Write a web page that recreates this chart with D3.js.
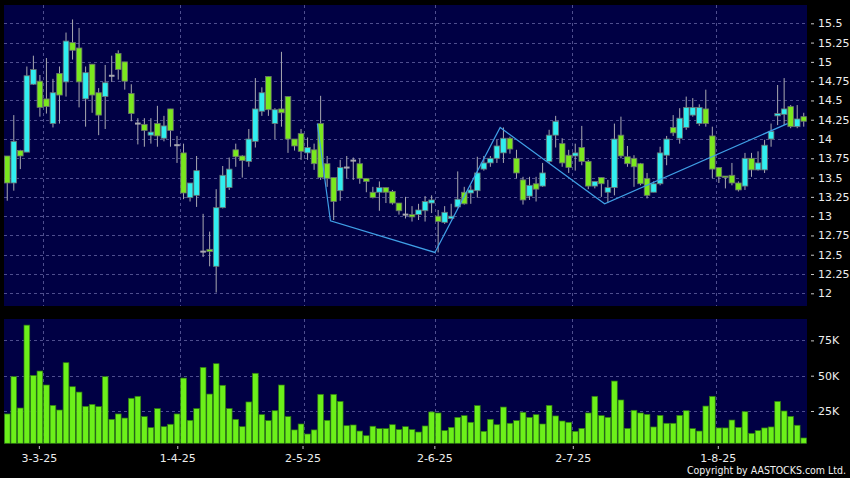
<!DOCTYPE html>
<html>
<head>
<meta charset="utf-8">
<script src="https://cdn.jsdelivr.net/npm/d3@7"></script>
<style>
  html, body { margin: 0; padding: 0; background: #000; }
  svg { display: block; }
</style>
</head>
<body>
<script>
// ---------------- DATA ----------------
const dates = [
  "2025-02-21","2025-02-24","2025-02-25","2025-02-26","2025-02-27","2025-02-28",
  "2025-03-03","2025-03-04","2025-03-05","2025-03-06","2025-03-07","2025-03-10","2025-03-11","2025-03-12","2025-03-13","2025-03-14",
  "2025-03-17","2025-03-18","2025-03-19","2025-03-20","2025-03-21","2025-03-24","2025-03-25","2025-03-26","2025-03-27","2025-03-28","2025-03-31",
  "2025-04-01","2025-04-02","2025-04-03","2025-04-07","2025-04-08","2025-04-09","2025-04-10","2025-04-11","2025-04-14","2025-04-15",
  "2025-04-16","2025-04-17","2025-04-22","2025-04-23","2025-04-24","2025-04-25","2025-04-28","2025-04-29","2025-04-30",
  "2025-05-02","2025-05-06","2025-05-07","2025-05-08","2025-05-09","2025-05-12","2025-05-13","2025-05-14","2025-05-15","2025-05-16",
  "2025-05-19","2025-05-20","2025-05-21","2025-05-22","2025-05-23","2025-05-26","2025-05-27","2025-05-28","2025-05-29","2025-05-30",
  "2025-06-02","2025-06-03","2025-06-04","2025-06-05","2025-06-06","2025-06-09","2025-06-10","2025-06-11","2025-06-12","2025-06-13",
  "2025-06-16","2025-06-17","2025-06-18","2025-06-19","2025-06-20","2025-06-23","2025-06-24","2025-06-25","2025-06-26","2025-06-27","2025-06-30",
  "2025-07-02","2025-07-03","2025-07-04","2025-07-07","2025-07-08","2025-07-09","2025-07-10","2025-07-11","2025-07-14","2025-07-15",
  "2025-07-16","2025-07-17","2025-07-18","2025-07-21","2025-07-22","2025-07-23","2025-07-24","2025-07-25","2025-07-28","2025-07-29","2025-07-30","2025-07-31",
  "2025-08-01","2025-08-04","2025-08-05","2025-08-06","2025-08-07","2025-08-08","2025-08-11","2025-08-12","2025-08-13","2025-08-14","2025-08-15",
  "2025-08-18","2025-08-19","2025-08-20"
];

const openP = [
  13.78,13.43,13.85,13.83,14.71,14.75,14.52,14.20,14.85,14.74,15.25,15.18,14.52,14.97,14.60,14.55,
  14.82,15.11,15.00,14.59,14.20,14.19,14.05,14.20,14.01,14.39,13.92,13.82,13.24,13.27,12.54,12.57,
  12.35,13.11,13.37,13.86,13.78,13.71,13.97,14.36,14.81,14.20,14.39,14.55,14.00,14.07,13.82,13.86,
  14.20,13.68,13.50,13.33,13.63,13.72,13.68,13.49,13.31,13.31,13.37,13.32,13.17,13.02,13.02,13.02,
  13.07,13.17,13.00,12.92,12.97,13.12,13.31,13.30,13.33,13.61,13.69,13.75,13.82,14.01,13.75,13.47,
  13.26,13.42,13.39,13.71,14.05,13.94,13.79,13.78,13.89,13.71,13.39,13.50,13.31,13.37,14.05,13.77,
  13.75,13.68,13.49,13.31,13.42,13.79,14.15,14.01,14.15,14.31,14.20,14.39,14.04,13.63,13.52,13.53,
  13.43,13.39,13.75,13.60,13.60,14.00,14.30,14.32,14.42,14.16,14.29
];
const highP = [
  13.78,14.31,13.86,14.94,15.08,14.83,15.05,14.78,14.94,15.38,15.55,15.44,14.94,14.97,14.66,14.96,
  15.08,15.15,15.00,14.71,14.27,14.27,14.27,14.43,14.30,14.39,14.04,13.94,13.43,13.78,13.03,12.80,
  13.35,13.65,13.76,13.94,13.79,14.13,14.79,14.67,14.81,14.40,15.13,14.55,14.00,14.13,14.02,13.94,
  14.56,13.78,13.50,13.73,13.78,13.76,13.75,13.49,13.38,13.45,13.37,13.34,13.17,13.25,13.13,13.16,
  13.26,13.27,13.08,13.13,13.16,13.58,13.38,13.40,13.77,13.78,13.78,13.99,14.15,14.03,13.86,13.51,
  13.51,13.51,13.69,14.12,14.30,14.01,13.86,13.94,14.17,13.73,13.45,13.50,13.47,14.20,14.29,13.91,
  13.79,13.69,13.56,13.45,13.90,14.04,14.31,14.40,14.55,14.53,14.45,14.64,14.16,13.63,13.52,13.69,
  13.45,13.82,13.82,13.84,13.99,14.20,14.70,14.79,14.44,14.44,14.34
];
const lowP = [
  13.20,13.33,13.61,13.83,14.70,14.29,14.33,14.15,14.20,14.55,15.03,14.41,14.16,14.34,14.05,14.13,
  14.74,14.77,14.64,14.23,13.93,13.90,13.94,13.90,13.97,13.90,13.69,13.22,13.19,13.12,12.47,12.35,
  12.01,13.10,13.34,13.64,13.50,13.64,13.89,14.30,14.30,14.00,14.16,13.82,13.85,13.73,13.73,13.60,
  13.47,13.38,12.95,13.20,13.49,13.47,13.42,13.31,13.23,13.07,13.17,13.15,13.02,12.97,12.93,12.95,
  12.93,13.04,12.53,12.90,12.96,13.11,13.15,13.16,13.24,13.59,13.64,13.69,13.69,13.81,13.49,13.15,
  13.21,13.19,13.38,13.69,13.89,13.64,13.56,13.59,13.66,13.35,13.36,13.25,13.17,13.27,13.75,13.64,
  13.38,13.40,13.23,13.31,13.40,13.66,14.04,13.94,14.12,14.29,14.17,14.16,13.49,13.43,13.36,13.40,
  13.32,13.34,13.51,13.59,13.56,13.90,14.18,14.18,14.14,14.14,14.16
];
const closeP = [
  13.43,13.97,13.78,14.82,14.90,14.41,14.42,14.60,14.57,15.27,15.15,14.74,14.86,14.57,14.31,14.73,
  14.82,14.90,14.75,14.33,14.20,14.11,14.09,14.04,14.17,14.11,13.92,13.30,13.43,13.59,12.54,12.54,
  13.11,13.53,13.61,13.77,13.72,14.00,14.39,14.60,14.38,14.38,14.34,14.00,13.91,13.84,13.89,13.68,
  13.50,13.49,13.19,13.63,13.63,13.72,13.49,13.45,13.24,13.37,13.31,13.17,13.07,13.02,12.99,13.08,
  13.19,13.21,12.93,13.05,13.00,13.22,13.16,13.34,13.56,13.69,13.75,13.91,14.01,13.87,13.56,13.21,
  13.40,13.35,13.56,14.05,14.23,13.69,13.63,13.82,13.71,13.39,13.45,13.42,13.37,14.00,13.78,13.68,
  13.64,13.42,13.27,13.42,13.82,14.00,14.08,14.27,14.41,14.41,14.41,14.20,13.61,13.51,13.50,13.43,
  13.34,13.75,13.60,13.69,13.92,14.10,14.33,14.39,14.16,14.26,14.23
];
const volume = [
  22900,49300,27100,85800,50200,53300,43400,29000,25700,59200,42200,38400,28300,29700,28100,49300,
  19100,22900,20000,34000,35400,21000,13200,26700,13900,15600,22900,48300,18400,26700,55900,37000,
  58500,43200,26700,19100,13900,31400,51700,22400,18200,25200,43400,21000,11600,15800,8700,11600,
  36800,18400,36800,31800,14600,15100,10800,7500,14200,12500,12500,15300,11800,13900,11800,10100,
  14400,24300,23600,11100,13400,20500,21700,17000,28800,10600,19100,15300,27800,16300,18200,24100,
  20500,22400,15800,29000,21500,17900,17000,10600,12700,23600,35400,21700,20500,46200,32800,12700,
  25500,23600,22600,13700,21900,16300,16300,21900,25200,12500,10800,28500,35400,13000,13000,18600,
  13400,24500,9200,11100,13000,13700,31800,25000,21200,14900,5900
];

// zig-zag trend line (vertices)
const trendDates  = ["2025-05-07","2025-05-09","2025-06-02","2025-06-16","2025-07-09","2025-08-18"];
const trendValues = [14.20, 12.94, 12.53, 14.15, 13.16, 14.20];

const priceTicks      = [12,12.25,12.5,12.75,13,13.25,13.5,13.75,14,14.25,14.5,14.75,15,15.25,15.5];
const priceTickLabels = ["12","12.25","12.5","12.75","13","13.25","13.5","13.75","14","14.25","14.5","14.75","15","15.25","15.5"];
const volTicks        = [25000,50000,75000];
const volTickLabels   = ["25K","50K","75K"];
const dateTicks       = ["2025-03-03","2025-04-01","2025-05-02","2025-06-02","2025-07-02","2025-08-01"];
const dateTickLabels  = ["3-3-25","1-4-25","2-5-25","2-6-25","2-7-25","1-8-25"];

// ---------------- DRAW ----------------
const W = 850, H = 478;
const FONT = "DejaVu Sans, Verdana, sans-serif";
const panelBg = "#000044";
const gridCol = "#4e4e8e";
const upCol = "#30eef0", downCol = "#7ae81e", volCol = "#6cf01a";

const P = {left: 4, right: 807, top: 5, bottom: 306};
const V = {top: 319, bottom: 443.3};

const svg = d3.select("body").append("svg").attr("width", W).attr("height", H)
  .style("background", "#000");

const x = d3.scaleBand().domain(dates).range([P.left, P.right]).padding(0);
const step = x.bandwidth();
const bw = step * 0.86;
const y = d3.scaleLinear().domain([12, 15.5]).range([293.3, 23.3]);
const yv = d3.scaleLinear().domain([0, 90000]).range([446.3, 319.2]);
const xa = d3.scaleBand().domain(dates).range([-3.5, 807.3]).padding(0);

// panels
svg.append("rect").attr("x", P.left).attr("y", P.top).attr("width", P.right - P.left)
  .attr("height", P.bottom - P.top).attr("fill", panelBg);
svg.append("rect").attr("x", P.left).attr("y", V.top).attr("width", P.right - P.left)
  .attr("height", V.bottom - V.top).attr("fill", panelBg);

// grid
const grid = svg.append("g").attr("stroke", gridCol).attr("stroke-width", 1)
  .attr("stroke-dasharray", "3,3").attr("shape-rendering", "crispEdges");
grid.selectAll("line.hp").data(priceTicks).join("line").attr("class", "hp")
  .attr("x1", P.left).attr("x2", P.right)
  .attr("y1", d => Math.round(y(d)) + 0.5).attr("y2", d => Math.round(y(d)) + 0.5);
grid.selectAll("line.hv").data(volTicks).join("line").attr("class", "hv")
  .attr("x1", P.left).attr("x2", P.right)
  .attr("y1", d => Math.round(yv(d)) + 0.5).attr("y2", d => Math.round(yv(d)) + 0.5);
grid.selectAll("line.vp").data(dateTicks).join("line").attr("class", "vp")
  .attr("x1", d => Math.round(x(d)) + 0.5).attr("x2", d => Math.round(x(d)) + 0.5)
  .attr("y1", P.top).attr("y2", P.bottom);
grid.selectAll("line.vv").data(dateTicks).join("line").attr("class", "vv")
  .attr("x1", d => Math.round(x(d)) + 0.5).attr("x2", d => Math.round(x(d)) + 0.5)
  .attr("y1", V.top).attr("y2", V.bottom);

// candles
const idx = d3.range(dates.length);
const cg = svg.append("g");
cg.selectAll("line.wick").data(idx).join("line").attr("class", "wick")
  .attr("x1", i => x(dates[i]) + step / 2).attr("x2", i => x(dates[i]) + step / 2)
  .attr("y1", i => y(highP[i])).attr("y2", i => y(lowP[i]))
  .attr("stroke", "#a8a8b0").attr("stroke-width", 1);
cg.selectAll("rect.body").data(idx.filter(i => openP[i] !== closeP[i])).join("rect").attr("class", "body")
  .attr("x", i => x(dates[i]) + (step - bw) / 2)
  .attr("y", i => y(Math.max(openP[i], closeP[i])))
  .attr("width", bw)
  .attr("height", i => Math.max(1.5, Math.abs(y(openP[i]) - y(closeP[i]))))
  .attr("fill", i => closeP[i] > openP[i] ? upCol : downCol)
  .attr("stroke", "#6a7070").attr("stroke-width", 0.8);
cg.selectAll("line.doji").data(idx.filter(i => openP[i] === closeP[i])).join("line").attr("class", "doji")
  .attr("x1", i => x(dates[i]) + (step - bw) / 2).attr("x2", i => x(dates[i]) + (step + bw) / 2)
  .attr("y1", i => y(openP[i])).attr("y2", i => y(openP[i]))
  .attr("stroke", "#a8a8b0").attr("stroke-width", 2);

// trend line
const line = d3.line().x(d => x(d[0])).y(d => y(d[1]));
svg.append("path").datum(trendDates.map((d, i) => [d, trendValues[i]]))
  .attr("d", line).attr("fill", "none").attr("stroke", "#3f9fe6").attr("stroke-width", 1.2);

// volume bars
svg.append("g").selectAll("rect").data(idx).join("rect")
  .attr("x", i => x(dates[i]) + 0.4)
  .attr("y", i => yv(volume[i]))
  .attr("width", step - 0.8)
  .attr("height", i => V.bottom - yv(volume[i]))
  .attr("fill", volCol).attr("stroke", "#2e7a12").attr("stroke-width", 0.7);

// axes
function styleAxis(g) {
  g.select(".domain").remove();
  g.selectAll(".tick line").attr("stroke", "#c8c8c8");
  g.selectAll(".tick text").attr("fill", "#eeeeee").style("font-family", FONT).style("font-size", "11px");
}
svg.append("g").attr("transform", "translate(811,0)")
  .call(d3.axisRight(y).tickValues(priceTicks).tickFormat((d, i) => priceTickLabels[i]).tickSize(3).tickPadding(4))
  .call(styleAxis);
svg.append("g").attr("transform", "translate(811,0)")
  .call(d3.axisRight(yv).tickValues(volTicks).tickFormat((d, i) => volTickLabels[i]).tickSize(3).tickPadding(4))
  .call(styleAxis);
svg.append("g").attr("transform", "translate(0,446)")
  .call(d3.axisBottom(xa).tickValues(dateTicks).tickFormat((d, i) => dateTickLabels[i]).tickSize(3).tickPadding(5))
  .call(styleAxis);

// copyright
svg.append("text").attr("x", 846).attr("y", 474).attr("text-anchor", "end")
  .attr("fill", "#f2f2f2")
  .style("font-family", "'DejaVu Sans Condensed', 'DejaVu Sans', sans-serif")
  .style("font-stretch", "condensed").style("font-size", "10.5px")
  .attr("textLength", 159).attr("lengthAdjust", "spacingAndGlyphs")
  .text("Copyright by AASTOCKS.com Ltd.");
</script>
</body>
</html>
